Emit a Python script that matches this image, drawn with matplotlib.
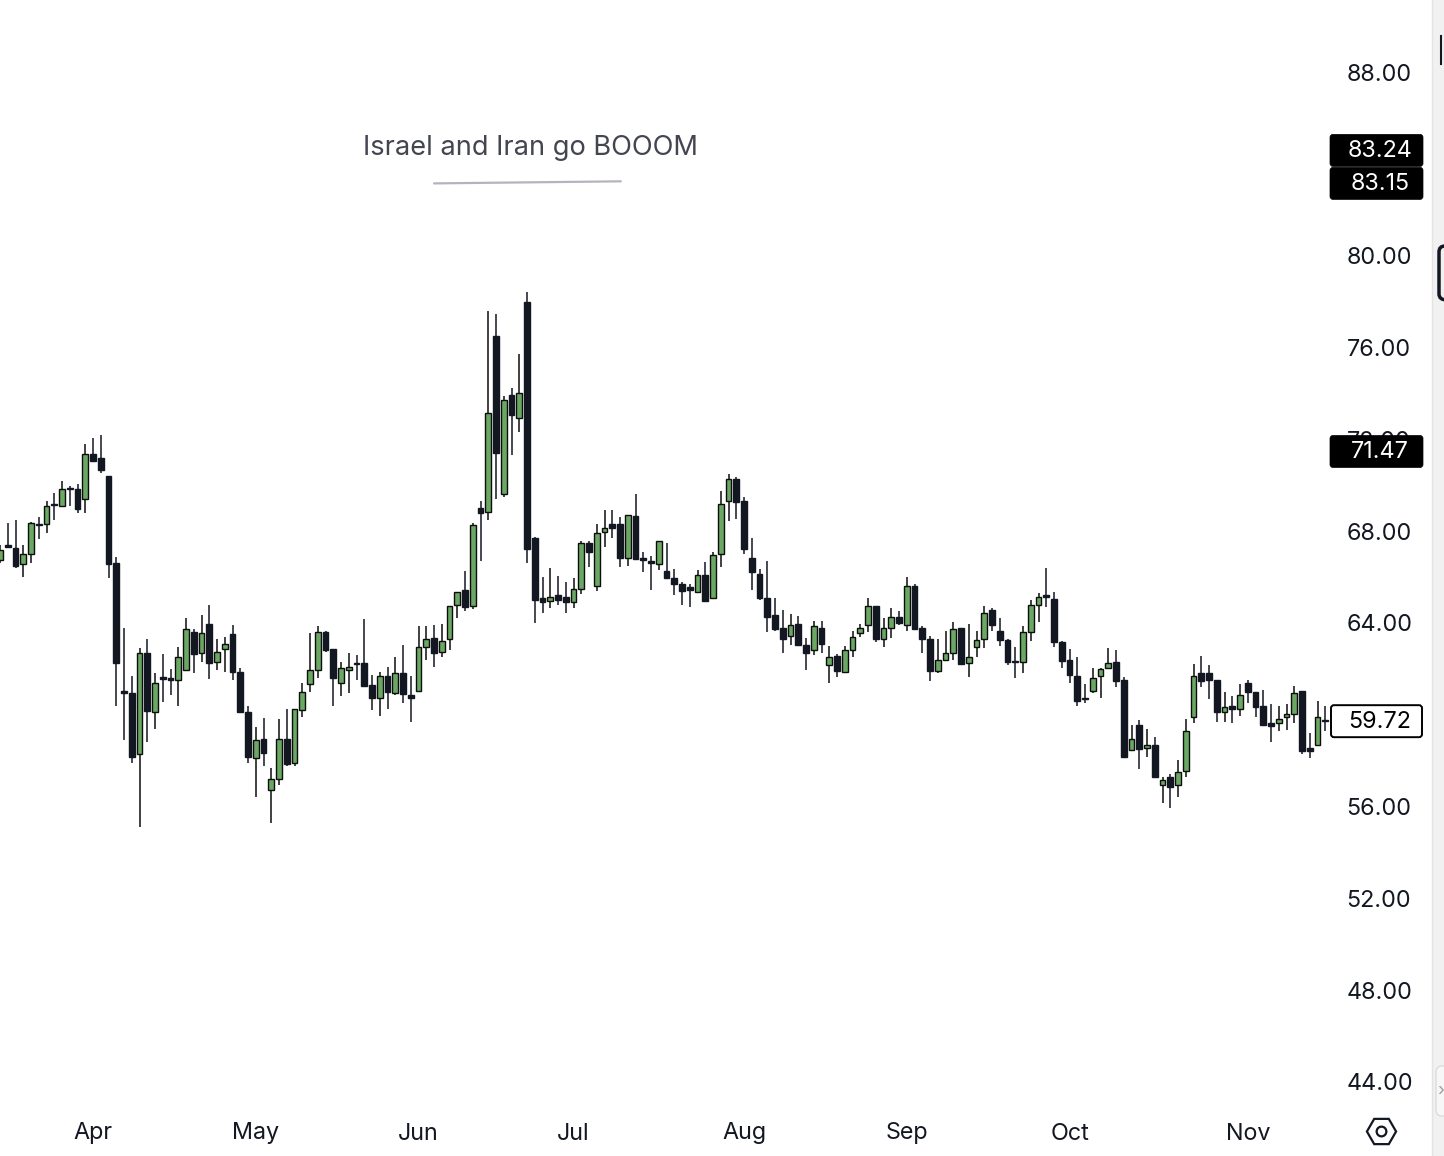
import numpy as np
import matplotlib
matplotlib.use("Agg")
import matplotlib.pyplot as plt
from matplotlib.patches import Rectangle, FancyBboxPatch

plt.rcParams['font.family'] = ['Inter', 'DejaVu Sans']

# ---------------- data ----------------
opens = [66.74, 67.4, 67.26, 66.56, 67.0, 68.3, 68.3, 69.2, 69.1, 69.9,
         69.85, 69.4, 71.35, 71.2, 70.4, 66.6, 61.05, 60.95, 58.3, 62.7,
         60.1, 61.65, 61.6, 61.5, 61.95, 63.6, 62.7, 63.95, 62.3, 62.85,
         63.5, 61.85, 60.1, 58.1, 58.95, 56.7, 57.2, 58.95, 57.9, 60.2,
         61.35, 61.95, 63.6, 62.85, 61.4, 61.95, 62.25, 62.25, 61.3, 60.75,
         61.7, 60.95, 61.8, 60.85, 61.05, 62.95, 63.35, 62.75, 63.3, 64.8,
         65.45, 64.75, 69.0, 68.85, 76.5, 69.6, 73.95, 72.95, 78.0, 67.7,
         65.1, 64.95, 65.2, 65.15, 64.9, 65.5, 67.5, 65.6, 67.95, 68.3,
         68.3, 66.85, 68.65, 66.85, 66.7, 66.55, 66.25, 65.95, 65.7, 65.55,
         65.35, 66.1, 65.1, 67.0, 69.3, 70.25, 69.3, 66.85, 66.15, 65.1,
         64.35, 63.8, 63.45, 63.95, 63.05, 62.8, 63.8, 62.15, 62.55, 61.85,
         62.8, 63.55, 63.9, 64.75, 63.3, 63.8, 64.25, 63.9, 65.6, 63.8,
         63.3, 61.9, 62.4, 62.7, 63.8, 62.25, 62.95, 63.3, 64.55, 63.65,
         63.25, 62.35, 62.3, 63.6, 64.8, 65.2, 65.05, 63.15, 62.4, 61.7,
         60.75, 61.05, 61.7, 62.05, 62.3, 61.5, 58.45, 59.55, 58.55, 58.7,
         56.95, 57.3, 56.95, 57.55, 59.9, 61.8, 61.8, 61.5, 60.1, 60.4,
         60.25, 61.4, 61.0, 60.4, 59.65, 59.65, 59.9, 60.05, 61.05, 58.55,
         58.7, 59.75]
highs = [67.4, 68.35, 68.5, 67.4, 68.4, 68.6, 69.3, 69.65, 70.2, 69.95,
         70.05, 71.8, 72.05, 72.2, 70.4, 66.87, 63.8, 61.7, 62.9, 63.3,
         61.8, 62.65, 62.0, 62.95, 64.2, 63.75, 64.35, 64.8, 63.3, 63.4,
         63.9, 62.05, 60.4, 59.45, 59.85, 57.7, 59.8, 60.25, 60.25, 61.4,
         63.55, 63.85, 63.65, 62.85, 62.3, 62.7, 62.6, 64.15, 61.75, 61.85,
         62.1, 62.5, 63.05, 61.7, 63.85, 63.85, 63.9, 63.95, 64.75, 65.35,
         66.25, 68.35, 69.3, 77.6, 77.45, 73.9, 74.25, 75.7, 78.4, 67.75,
         66.0, 66.4, 66.05, 65.8, 65.95, 67.55, 67.55, 68.3, 68.9, 68.9,
         68.6, 68.7, 69.6, 67.1, 66.9, 67.55, 67.5, 66.35, 65.8, 65.7,
         66.3, 66.65, 67.1, 69.75, 70.5, 70.35, 69.5, 67.7, 66.35, 66.7,
         65.1, 64.55, 64.4, 64.3, 63.35, 64.1, 64.1, 63.0, 62.65, 63.0,
         63.65, 63.95, 65.1, 64.75, 64.2, 64.65, 64.5, 66.0, 65.7, 63.85,
         63.45, 63.3, 63.65, 64.05, 63.8, 63.95, 63.65, 64.75, 64.65, 64.2,
         63.3, 62.95, 63.85, 65.0, 65.3, 66.4, 65.35, 63.2, 62.85, 62.5,
         61.35, 62.05, 62.05, 62.9, 62.8, 61.65, 59.55, 59.75, 59.4, 59.05,
         57.3, 57.4, 58.05, 59.8, 62.2, 62.55, 62.15, 61.5, 61.0, 60.8,
         61.35, 61.5, 61.0, 61.1, 60.45, 60.4, 60.45, 61.25, 61.05, 59.2,
         60.6, 60.4]
lows = [66.6, 67.25, 66.4, 66.0, 66.6, 67.65, 67.9, 68.5, 69.05, 69.1,
        68.8, 68.8, 71.0, 70.55, 65.95, 60.4, 58.9, 57.9, 55.1, 58.8,
        59.4, 60.55, 60.85, 60.4, 61.9, 61.8, 62.3, 61.55, 61.95, 61.85,
        61.5, 60.1, 57.9, 56.4, 57.75, 55.3, 56.95, 57.75, 57.75, 59.9,
        61.0, 61.6, 62.75, 60.4, 60.8, 60.95, 61.5, 61.25, 60.2, 59.95,
        60.25, 60.85, 60.5, 59.7, 61.05, 62.4, 62.1, 62.5, 62.8, 64.2,
        64.5, 64.6, 66.7, 68.5, 69.4, 69.5, 71.3, 72.3, 66.6, 64.0,
        64.45, 64.65, 64.8, 64.45, 64.65, 65.25, 66.45, 65.4, 67.3, 67.7,
        66.45, 66.5, 66.8, 66.2, 65.45, 66.3, 65.9, 65.2, 64.8, 64.7,
        65.3, 64.9, 65.1, 66.45, 68.45, 68.55, 67.0, 65.45, 65.0, 63.6,
        63.65, 62.7, 63.05, 63.05, 61.95, 62.6, 62.7, 61.4, 61.65, 61.8,
        62.5, 63.4, 63.6, 63.15, 62.95, 63.35, 63.9, 63.65, 63.75, 62.7,
        61.45, 61.8, 62.4, 62.4, 62.2, 61.65, 62.5, 62.9, 63.65, 63.0,
        62.15, 61.6, 61.8, 63.2, 64.05, 64.7, 62.95, 62.05, 61.4, 60.4,
        60.5, 60.95, 60.75, 62.05, 61.2, 58.15, 58.45, 57.65, 58.15, 57.25,
        56.15, 55.95, 56.4, 57.3, 59.65, 61.2, 60.7, 59.7, 59.7, 59.65,
        59.95, 60.5, 59.9, 59.5, 58.8, 59.3, 59.35, 59.65, 58.3, 58.1,
        58.7, 59.3]
closes = [67.18, 67.3, 66.5, 67.0, 68.35, 68.25, 69.1, 69.15, 69.85, 69.85,
          68.95, 71.35, 71.05, 70.65, 66.55, 62.25, 60.95, 58.15, 62.7, 60.15,
          61.4, 61.55, 61.5, 62.5, 63.75, 62.65, 63.55, 62.25, 62.75, 63.1,
          61.85, 60.1, 58.15, 58.9, 58.35, 57.2, 58.95, 57.85, 60.25, 61.0,
          61.95, 63.6, 62.8, 61.6, 62.05, 62.1, 62.2, 61.25, 60.75, 61.7,
          61.0, 61.8, 60.9, 60.75, 62.95, 63.3, 62.7, 63.2, 64.75, 65.35,
          64.7, 68.25, 68.8, 73.15, 71.4, 73.7, 73.05, 74.0, 67.2, 65.0,
          64.9, 65.15, 65.0, 64.9, 65.5, 67.5, 67.1, 67.9, 68.15, 68.15,
          66.85, 68.7, 66.8, 66.75, 66.6, 67.55, 65.95, 65.7, 65.4, 65.45,
          66.1, 64.95, 66.95, 69.2, 70.25, 69.25, 67.2, 66.2, 65.1, 64.25,
          63.75, 63.3, 63.9, 63.05, 62.7, 63.85, 63.1, 62.5, 61.9, 62.8,
          63.4, 63.8, 64.75, 63.3, 63.8, 64.25, 64.0, 65.6, 63.75, 63.3,
          61.9, 62.4, 62.7, 63.75, 62.2, 62.5, 63.25, 64.45, 63.9, 63.25,
          62.3, 62.3, 63.6, 64.8, 65.15, 65.15, 63.15, 62.35, 61.75, 60.6,
          60.7, 61.6, 62.0, 62.25, 61.45, 58.15, 58.95, 58.5, 58.7, 57.3,
          57.15, 56.85, 57.5, 59.3, 61.7, 61.45, 61.5, 60.1, 60.35, 60.25,
          60.85, 61.0, 60.35, 59.55, 59.5, 59.8, 60.05, 60.95, 58.4, 58.4,
          59.9, 59.72]

month_labels = ["Apr", "May", "Jun", "Jul", "Aug", "Sep", "Oct", "Nov"]
month_starts = [12, 33, 54, 74, 96, 117, 138, 161]   # bar index of first session
# 60.00 and 84.00 are hidden behind price labels in the reference
price_ticks = [44, 48, 52, 56, 64, 68, 72, 76, 80, 88]

note_text = "Israel and Iran go BOOOM"
note_pos = (68.4, 84.38)
trend_x = [56.0, 80.1]
trend_y = [83.15, 83.24]
marker_price = 71.47
last_price = 59.72

# ---------------- styling ----------------
W, H = 1444, 1156
DARK = "#131722"
GREEN = "#6aa864"
EDGE = "#0d0d0d"
TXT = "#131722"
FS = 16.8

fig = plt.figure(figsize=(W / 100, H / 100), dpi=100)
fig.patch.set_facecolor("white")
ax = fig.add_axes([0, (H - 1110) / H, 1330 / W, 1110 / H])
ax.set_facecolor("white")
for s in ax.spines.values():
    s.set_visible(False)

o = np.array(opens)
h = np.array(highs)
l = np.array(lows)
c = np.array(closes)
x = np.arange(len(o))
up = c > o
body_bottom = np.minimum(o, c)
body_h = np.maximum(np.abs(c - o), 0.05)

ax.vlines(x[up], l[up], h[up], color=EDGE, lw=1.1, zorder=1)
ax.vlines(x[~up], l[~up], h[~up], color=DARK, lw=1.1, zorder=1)
ax.bar(x[up], body_h[up], bottom=body_bottom[up], width=0.74,
       color=GREEN, edgecolor=EDGE, linewidth=1.0, zorder=2)
ax.bar(x[~up], body_h[~up], bottom=body_bottom[~up], width=0.74,
       color=DARK, edgecolor=DARK, linewidth=1.0, zorder=2)

ax.set_xlim(0, 171.6)
ax.set_ylim(42.78, 91.14)

ax.yaxis.tick_right()
ax.set_yticks(price_ticks)
ax.set_yticklabels([f"{v:.2f}" for v in price_ticks])
ax.tick_params(axis="y", length=0, pad=12, labelsize=FS, labelcolor=TXT)
ax.set_xticks(month_starts)
ax.set_xticklabels(month_labels)
ax.tick_params(axis="x", length=0, pad=9, labelsize=FS, labelcolor=TXT)

# annotation drawing
ax.plot(trend_x, trend_y, color="#b2b5be", lw=1.6, solid_capstyle="round", zorder=3)
ax.text(note_pos[0], note_pos[1], note_text, ha="center", va="baseline",
        fontsize=19.6, color="#434651", zorder=3)

# ---------------- overlay (pixel coordinates, top-down) ----------------
ov = fig.add_axes([0, 0, 1, 1], zorder=5)
ov.set_xlim(0, W)
ov.set_ylim(H, 0)
ov.axis("off")
ov.patch.set_alpha(0)


def py(price):
    return H - ax.transData.transform((0, price))[1]


# right strip and widgets
ov.add_patch(Rectangle((1432, 0), 12, H, fc="#f1f1f1", ec="none"))
ov.plot([1432, 1432], [0, H], color="#e3e3e3", lw=1)
ov.plot([1441, 1441], [36, 64], color=DARK, lw=1.5)
ov.add_patch(FancyBboxPatch((1439, 246), 14, 54,
                            boxstyle="round,pad=0,rounding_size=6",
                            fc="none", ec=DARK, lw=2.5))
ov.add_patch(FancyBboxPatch((1436, 1066), 16, 50,
                            boxstyle="round,pad=0,rounding_size=6",
                            fc="#f7f7f7", ec="#dcdcdc", lw=1))
ov.text(1441, 1092, "›", ha="center", va="center", fontsize=13, color="#a0a0a0")


def black_label(yc, txt):
    ov.add_patch(FancyBboxPatch((1330, yc - 16), 93, 32,
                                boxstyle="round,pad=0,rounding_size=3",
                                fc="black", ec="black", lw=0.5))
    ov.text(1380, yc + 1, txt, ha="center", va="center", fontsize=FS,
            color="white")


y_lo = py(trend_y[0])
black_label(y_lo, f"{trend_y[0]:.2f}")
black_label(y_lo - 33, f"{trend_y[1]:.2f}")
black_label(py(marker_price), f"{marker_price:.2f}")

yl = py(last_price)
ov.add_patch(FancyBboxPatch((1331, yl - 16), 91, 32,
                            boxstyle="round,pad=0,rounding_size=3",
                            fc="white", ec="black", lw=1.4))
ov.text(1380, yl + 1, f"{last_price:.2f}", ha="center", va="center",
        fontsize=FS, color="black")

# settings icon
ov.plot(1381, 1131, marker="H", ms=21, mfc="none", mec=TXT, mew=1.6)
ov.plot(1381, 1131, marker="o", ms=7, mfc="none", mec=TXT, mew=1.6)

fig.savefig("out.png", dpi=100, facecolor="white")
